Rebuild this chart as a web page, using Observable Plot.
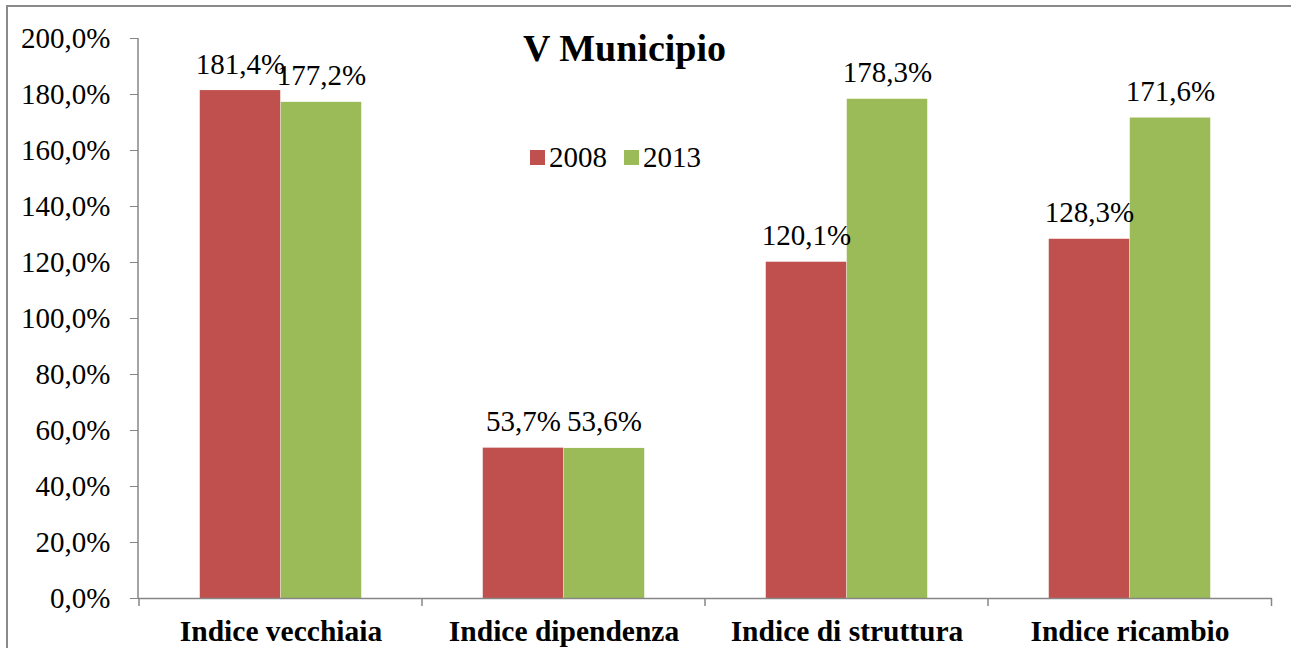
<!DOCTYPE html>
<html><head><meta charset="utf-8">
<script src="https://cdn.jsdelivr.net/npm/d3@7"></script>
<script src="https://cdn.jsdelivr.net/npm/@observablehq/plot@0.6"></script>
<style>
html,body{margin:0;padding:0;background:#fff;overflow:hidden;}
#chart svg{display:block;}
#chart svg, #chart svg text{font-family: "Liberation Serif", "Times New Roman", Tinos, "DejaVu Serif", serif !important;}
</style>
</head><body><div id="chart"></div>
<script>
const categories = ["Indice vecchiaia", "Indice dipendenza", "Indice di struttura", "Indice ricambio"];
const seriesNames = ["2008", "2013"];
const values2008 = [181.4, 53.7, 120.1, 128.3];
const values2013 = [177.2, 53.6, 178.3, 171.6];
const yTicks = [0, 20, 40, 60, 80, 100, 120, 140, 160, 180, 200];
const seriesColors = ["#C0504D", "#9BBB59"];
const title = "V Municipio";

const rows = categories.flatMap((c, i) => [
  {category: c, series: seriesNames[0], value: values2008[i]},
  {category: c, series: seriesNames[1], value: values2013[i]}
]);

const W = 1291, H = 648, mL = 138, mR = 19, mT = 38, mB = 50;
const band = (W - mL - mR) / categories.length;
const gapWidth = 0.75;
const barW = band / (1 + gapWidth) / 2;
const outer = (band - 2 * barW) / 2;
const fmt = v => v.toFixed(1).replace(".", ",") + "%";
const serif = "Liberation Serif, Times New Roman, serif";
const axisGray = "#868686";

function decorations(index, scales, values, dims) {
  const g = d3.create("svg:g");
  const x0 = dims.marginLeft;
  const yb = dims.height - dims.marginBottom, yt = dims.marginTop;
  // chart-area border
  g.append("rect").attr("x", 7).attr("y", 6)
    .attr("width", dims.width + 20).attr("height", dims.height + 20)
    .attr("fill", "none").attr("stroke", "#8a8a8a").attr("stroke-width", 2);
  // y axis line
  g.append("line").attr("x1", x0).attr("x2", x0).attr("y1", yt).attr("y2", yb)
    .attr("stroke", axisGray).attr("stroke-width", 1.5);
  // x axis category boundary ticks
  const edges = categories.map(c => scales.x(c)).concat([scales.x(categories[categories.length - 1]) + band]);
  edges.forEach(e => {
    g.append("line").attr("x1", e).attr("x2", e).attr("y1", yb).attr("y2", yb + 8)
      .attr("stroke", axisGray).attr("stroke-width", 1.5);
  });
  // legend
  const lg = g.append("g").attr("font-size", 29).attr("text-anchor", "start");
  const lx = [530, 624];
  seriesNames.forEach((s, i) => {
    lg.append("rect").attr("x", lx[i]).attr("y", 150).attr("width", 15).attr("height", 15)
      .attr("fill", scales.color(s));
    lg.append("text").attr("x", lx[i] + 19).attr("y", 167).attr("fill", "black").text(s);
  });
  return g.node();
}

const chart = Plot.plot({
  width: W, height: H,
  marginLeft: mL, marginRight: mR, marginTop: mT, marginBottom: mB,
  style: {fontFamily: serif, fontSize: "29px", color: "black", background: "white", overflow: "visible"},
  x: {domain: categories, padding: 0, label: null},
  y: {domain: [0, 200], label: null},
  color: {domain: seriesNames, range: seriesColors},
  marks: [
    Plot.barY(rows.filter(d => d.series === seriesNames[0]), {x: "category", y: "value", fill: "series", insetLeft: outer, insetRight: band - outer - barW}),
    Plot.barY(rows.filter(d => d.series === seriesNames[1]), {x: "category", y: "value", fill: "series", insetLeft: outer + barW, insetRight: outer}),
    Plot.ruleY([0], {stroke: axisGray, strokeWidth: 1.5}),
    Plot.axisY(yTicks, {tickFormat: fmt, tickSize: 8, tickPadding: 20, stroke: axisGray, fontSize: 29, label: null}),
    Plot.axisX({tickSize: 0, tickPadding: 22, fontWeight: "bold", fontSize: 29.5, label: null}),
    Plot.text(rows.filter(d => d.series === seriesNames[0]), {x: "category", y: "value", text: d => fmt(d.value), dx: -barW / 2, dy: -17, lineAnchor: "bottom", fontSize: 29}),
    Plot.text(rows.filter(d => d.series === seriesNames[1]), {x: "category", y: "value", text: d => fmt(d.value), dx: barW / 2, dy: -17, lineAnchor: "bottom", fontSize: 29}),
    Plot.text([title], {frameAnchor: "top", dx: -81, dy: -4, fontSize: 38, fontWeight: "bold"}),
    decorations
  ]
});
document.getElementById("chart").appendChild(chart);
</script>
</body></html>
